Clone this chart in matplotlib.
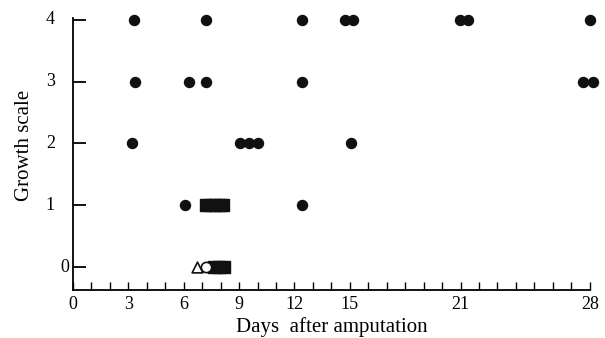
import matplotlib.pyplot as plt
import numpy as np

plt.rcParams['font.family'] = ['Liberation Serif', 'DejaVu Serif']

# filled circles: (day, growth scale)
dot_days = [3.3, 7.2, 12.4, 14.73, 15.17, 20.96, 21.4, 28.0,
            3.36, 6.28, 7.2, 12.4, 27.63, 28.17,
            3.2, 9.05, 9.53, 10.02, 15.06,
            6.07, 12.4]
dot_scale = [4, 4, 4, 4, 4, 4, 4, 4,
             3, 3, 3, 3, 3, 3,
             2, 2, 2, 2, 2,
             1, 1]

# filled squares
sq_days = [7.2, 7.45, 7.7, 7.95, 8.15, 7.65, 7.9, 8.2]
sq_scale = [1, 1, 1, 1, 1, 0, 0, 0]

# open triangle and open circle
tri_days = [6.7]
tri_scale = [0]
ring_days = [7.2]
ring_scale = [0]

xtick_vals = [0, 3, 6, 9, 12, 15, 21, 28]
ytick_vals = [0, 1, 2, 3, 4]

fig = plt.figure(figsize=(6.05, 3.38), dpi=100)
ax = fig.add_axes([0.1207, 0.142, 0.854, 0.805])

ax.scatter(sq_days, sq_scale, marker='s', s=64, color='#111111', zorder=3, clip_on=False)
ax.scatter(dot_days, dot_scale, marker='o', s=52, color='#111111', zorder=4, clip_on=False)
ax.scatter(tri_days, tri_scale, marker='^', s=60, facecolor='white', edgecolor='#111111',
           linewidth=1.2, zorder=5, clip_on=False)
ax.scatter(ring_days, ring_scale, marker='o', s=55, facecolor='white', edgecolor='#111111',
           linewidth=1.2, zorder=6, clip_on=False)

ax.set_xlim(0, 28)
ax.set_ylim(-0.37, 4.03)
ax.spines['top'].set_visible(False)
ax.spines['right'].set_visible(False)
ax.spines['left'].set_linewidth(1.3)
ax.spines['bottom'].set_linewidth(1.3)

ax.set_xticks(xtick_vals)
ax.set_xticks(np.arange(0, 29), minor=True)
ax.set_yticks(ytick_vals)
ax.tick_params(axis='x', which='both', direction='in', length=6, width=1, labelsize=13, pad=4)
ax.tick_params(axis='y', which='major', direction='in', length=9, width=1.3, labelleft=False)

# y labels drawn by hand: the "0" sits closer to the axis in the original
for v in ytick_vals:
    off = 3 if v == 0 else 13
    ax.annotate(str(v), xy=(0, v), xycoords=ax.get_yaxis_transform(),
                xytext=(-off, 0), textcoords='offset points',
                ha='right', va='center', fontsize=13)

ax.set_xlabel('Days  after amputation', fontsize=15, labelpad=3)
ax.set_ylabel('Growth scale', fontsize=15)
ax.yaxis.set_label_coords(-0.075, 0.533)

fig.savefig('out.png', dpi=100)
